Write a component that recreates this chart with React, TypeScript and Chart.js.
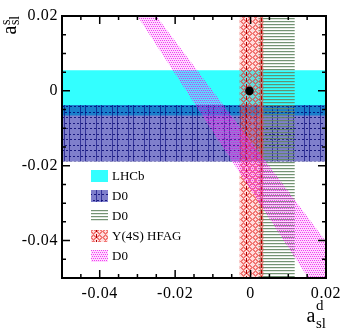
import React, { useEffect, useRef } from 'react';
import { Chart, registerables } from 'chart.js';

Chart.register(...registerables);

// ---- data ----
const X_RANGE = [-0.05, 0.02];
const Y_RANGE = [-0.05, 0.02];
const MINOR_STEP = 0.005;
const X_TICK_VALUES = [-0.04, -0.02, 0, 0.02];
const X_TICK_LABELS = ['-0.04', '-0.02', '0', '0.02'];
const Y_TICK_VALUES = [-0.04, -0.02, 0, 0.02];
const Y_TICK_LABELS = ['-0.04', '-0.02', '0', '0.02'];

const LEGEND_LABELS = ['LHCb', 'D0', 'D0', 'Υ(4S) HFAG', 'D0'];

// a_sl^s bands [low, high]
const LHCB_ASLS = [-0.0066, 0.0055];
const D0_ASLS = [-0.0189, -0.0038];
// a_sl^d bands [low, high]
const D0_ASLD = [0.0021, 0.0117];
const HFAG_ASLD = [-0.0029, 0.0034];
// D0 dimuon band: a_sl^d of edges at the top (a_sl^s = 0.02) and bottom (a_sl^s = -0.05)
const DIMUON_TOP_X = [-0.03, -0.025];
const DIMUON_BOTTOM_X = [0.0153, 0.0273];
// SM point [a_sl^d, a_sl^s]
const SM_POINT = [-0.0003, 0.0];

const FONT = "'Liberation Serif', 'Times New Roman', serif";

function makePattern(ctx: CanvasRenderingContext2D, w: number, h: number, draw: (g: CanvasRenderingContext2D) => void) {
  const c = document.createElement('canvas');
  c.width = w;
  c.height = h;
  const g = c.getContext('2d')!;
  draw(g);
  return ctx.createPattern(c, 'repeat')!;
}

const hBand = (b: number[]) => [
  { x: X_RANGE[0], y: b[0] },
  { x: X_RANGE[0], y: b[1] },
  { x: X_RANGE[1], y: b[1] },
  { x: X_RANGE[1], y: b[0] },
];
const vBand = (b: number[]) => [
  { x: b[0], y: Y_RANGE[0] },
  { x: b[0], y: Y_RANGE[1] },
  { x: b[1], y: Y_RANGE[1] },
  { x: b[1], y: Y_RANGE[0] },
];
const diagBand = () => [
  { x: DIMUON_TOP_X[0], y: Y_RANGE[1] },
  { x: DIMUON_TOP_X[1], y: Y_RANGE[1] },
  { x: DIMUON_BOTTOM_X[1], y: Y_RANGE[0] },
  { x: DIMUON_BOTTOM_X[0], y: Y_RANGE[0] },
];

function tickList(range: number[]) {
  const out: { value: number }[] = [];
  const n = Math.round((range[1] - range[0]) / MINOR_STEP);
  for (let i = 0; i <= n; i++) out.push({ value: +(range[0] + i * MINOR_STEP).toFixed(6) });
  return out;
}

function labelFor(v: number, vals: number[], labels: string[]) {
  for (let i = 0; i < vals.length; i++) if (Math.abs(v - vals[i]) < 1e-9) return labels[i];
  return '';
}

export default function App() {
  const ref = useRef<HTMLCanvasElement>(null);

  useEffect(() => {
    document.body.style.margin = '0';
    const canvas = ref.current!;
    const ctx = canvas.getContext('2d')!;

    const cyan = '#33ffff';
    const bluePat = makePattern(ctx, 16, 11, (g) => {
      g.fillStyle = 'rgba(0,0,153,0.5)';
      g.fillRect(0, 0, 16, 11);
      g.fillStyle = 'rgba(0,0,120,0.6)';
      g.fillRect(0, 0, 1, 11);
      g.fillRect(5, 0, 1, 11);
      g.fillStyle = 'rgba(0,0,110,0.8)';
      for (let x = 0; x < 16; x += 4) {
        g.fillRect(x + 1, 2, 2, 1);
        g.fillRect(x + 2, 7, 2, 1);
      }
    });
    const greenPat = makePattern(ctx, 2, 3, (g) => {
      g.fillStyle = 'rgba(100,135,100,0.9)';
      g.fillRect(0, 0, 2, 1);
      g.fillStyle = 'rgba(100,135,100,0.2)';
      g.fillRect(0, 1, 2, 1);
    });
    const redPat = makePattern(ctx, 30, 6, (g) => {
      g.fillStyle = 'rgba(255,120,120,0.25)';
      g.fillRect(0, 0, 30, 6);
      g.fillStyle = 'rgba(232,50,45,0.6)';
      for (let y = 0; y < 6; y++)
        for (let x = 0; x < 30; x++) {
          const d = Math.abs((x % 6) - 3) + Math.abs((y % 6) - 3);
          if (d === 2 || d === 3) g.fillRect(x, y, 1, 1);
        }
      g.fillStyle = '#b00000';
      g.fillRect(6, 0, 1, 4);
      g.fillRect(21, 0, 1, 4);
    });
    const pinkPat = makePattern(ctx, 4, 4, (g) => {
      g.fillStyle = 'rgba(255,80,255,0.22)';
      g.fillRect(0, 0, 4, 4);
      g.fillStyle = 'rgba(235,0,235,0.7)';
      g.fillRect(0, 0, 1, 1);
      g.fillRect(2, 0, 1, 1);
      g.fillRect(1, 2, 1, 1);
      g.fillRect(3, 2, 1, 1);
    });

    const bandBase = {
      showLine: true,
      fill: 'shape',
      borderWidth: 0,
      borderColor: 'rgba(0,0,0,0)',
      pointRadius: 0,
      pointHoverRadius: 0,
      tension: 0,
    };

    const datasets: any[] = [
      { ...bandBase, label: LEGEND_LABELS[0], data: hBand(LHCB_ASLS), backgroundColor: cyan, order: 10 },
      { ...bandBase, label: LEGEND_LABELS[1], data: hBand(D0_ASLS), backgroundColor: bluePat, order: 9 },
      { ...bandBase, label: LEGEND_LABELS[2], data: vBand(D0_ASLD), backgroundColor: greenPat, order: 8 },
      { ...bandBase, label: LEGEND_LABELS[3], data: vBand(HFAG_ASLD), backgroundColor: redPat, order: 7 },
      { ...bandBase, label: LEGEND_LABELS[4], data: diagBand(), backgroundColor: pinkPat, order: 6 },
      {
        label: 'SM',
        data: [{ x: SM_POINT[0], y: SM_POINT[1] }],
        showLine: false,
        fill: false,
        pointRadius: 4.3,
        pointBackgroundColor: '#000',
        pointBorderColor: '#000',
        pointBorderWidth: 0,
        order: 0,
      },
    ];

    const spacingPlugin = {
      id: 'spacing',
      beforeDraw(c: any) {
        (c.ctx as any).letterSpacing = '0.6px';
      },
      beforeDatasetsDraw(c: any) {
        (c.ctx as any).letterSpacing = '0px';
      },
    };

    const framePlugin = {
      id: 'frame',
      afterDatasetsDraw(c: any) {
        const g: CanvasRenderingContext2D = c.ctx;
        const a = c.chartArea;
        const xs = c.scales.x;
        const ys = c.scales.y;
        g.save();
        (g as any).letterSpacing = '0px';
        g.strokeStyle = '#000';
        g.lineWidth = 1.5;
        g.beginPath();
        for (const t of xs.ticks) {
          const px = xs.getPixelForValue(t.value);
          const major = labelFor(t.value, X_TICK_VALUES, X_TICK_LABELS) !== '';
          const len = major ? 8 : 4;
          g.moveTo(px, a.bottom);
          g.lineTo(px, a.bottom - len);
          g.moveTo(px, a.top);
          g.lineTo(px, a.top + len);
        }
        for (const t of ys.ticks) {
          const py = ys.getPixelForValue(t.value);
          const major = labelFor(t.value, Y_TICK_VALUES, Y_TICK_LABELS) !== '';
          const len = major ? 8 : 4;
          g.moveTo(a.left, py);
          g.lineTo(a.left + len, py);
          g.moveTo(a.right, py);
          g.lineTo(a.right - len, py);
        }
        g.stroke();
        g.lineWidth = 2;
        g.strokeRect(a.left, a.top, a.right - a.left, a.bottom - a.top);

        // legend
        const bx = a.left + 29;
        const tx = a.left + 50;
        let cy = a.top + 160;
        for (let i = 0; i < LEGEND_LABELS.length; i++) {
          const ds = c.data.datasets[i];
          g.fillStyle = '#fff';
          g.fillRect(bx, cy - 6, 17, 12);
          g.fillStyle = ds.backgroundColor;
          g.fillRect(bx, cy - 6, 17, 12);
          g.fillStyle = '#000';
          g.font = `13px ${FONT}`;
          g.textAlign = 'left';
          g.textBaseline = 'middle';
          g.fillText(LEGEND_LABELS[i], tx, cy + 0.5);
          cy += 20;
        }

        // axis titles
        g.textBaseline = 'alphabetic';
        g.textAlign = 'left';
        // x title a_sl^d
        g.font = `20px ${FONT}`;
        const xa = a.right - 19.5;
        const xb = a.bottom + 44;
        g.fillText('a', xa, xb);
        const aw = g.measureText('a').width;
        g.font = `15px ${FONT}`;
        g.fillText('d', xa + aw + 0.5, xb - 12);
        g.fillText('sl', xa + aw + 0.5, xb + 6);
        // y title a_sl^s (rotated)
        g.translate(15.5, 34.5);
        g.rotate(-Math.PI / 2);
        g.font = `20px ${FONT}`;
        g.fillText('a', 0, 0);
        g.font = `14px ${FONT}`;
        g.fillText('s', aw + 0.5, -6);
        g.fillText('sl', aw + 0.5, 3);
        g.restore();
      },
    };

    const chart = new Chart(canvas, {
      type: 'scatter',
      data: { datasets },
      options: {
        responsive: false,
        animation: false,
        events: [],
        devicePixelRatio: 1,
        layout: { padding: { top: 16, right: 18, left: 0, bottom: 0 } },
        plugins: {
          legend: { display: false },
          tooltip: { enabled: false },
          filler: { propagate: false },
        },
        scales: {
          x: {
            type: 'linear',
            position: 'bottom',
            min: X_RANGE[0],
            max: X_RANGE[1],
            grid: { display: false, drawTicks: false },
            border: { display: false },
            afterBuildTicks: (s: any) => {
              s.ticks = tickList(X_RANGE);
            },
            afterFit: (s: any) => {
              s.height = 54;
            },
            ticks: {
              autoSkip: false,
              maxRotation: 0,
              padding: 6,
              color: '#000',
              font: { family: FONT, size: 16 },
              callback: (v: any) => labelFor(Number(v), X_TICK_VALUES, X_TICK_LABELS),
            },
          },
          y: {
            type: 'linear',
            position: 'left',
            min: Y_RANGE[0],
            max: Y_RANGE[1],
            grid: { display: false, drawTicks: false },
            border: { display: false },
            afterBuildTicks: (s: any) => {
              s.ticks = tickList(Y_RANGE);
            },
            afterFit: (s: any) => {
              s.width = 62;
            },
            ticks: {
              autoSkip: false,
              padding: 4,
              color: '#000',
              font: { family: FONT, size: 16 },
              callback: (v: any) => labelFor(Number(v), Y_TICK_VALUES, Y_TICK_LABELS),
            },
          },
        },
      },
      plugins: [spacingPlugin, framePlugin],
    } as any);

    return () => chart.destroy();
  }, []);

  return (
    <div style={{ position: 'absolute', left: 0, top: 0, width: 346, height: 332, background: '#fff' }}>
      <canvas ref={ref} width={346} height={332} style={{ width: 346, height: 332, display: 'block' }} />
    </div>
  );
}
